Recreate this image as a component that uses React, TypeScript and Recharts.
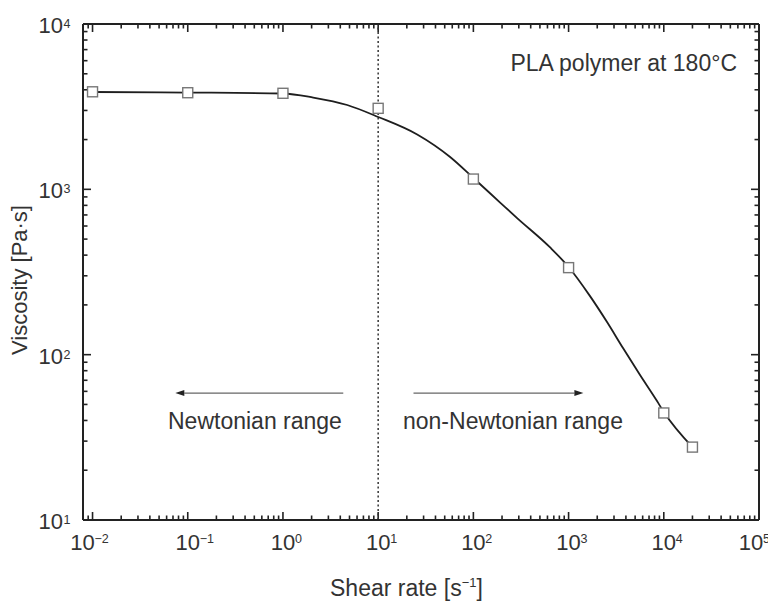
import React from 'react';
import { ComposedChart, Line, Scatter, XAxis, YAxis, ReferenceLine, Customized } from 'recharts';

// Fitted viscosity curve
const curveShearRate = [0.01, 0.1, 1, 2.08, 4.73, 10, 25.7, 57, 100, 191, 288, 640, 1000, 1680, 2535, 3730, 5630, 8490, 10000, 20000];
const curveViscosity = [3880, 3850, 3800, 3590, 3236, 2740, 2146, 1568, 1171, 832, 670, 445, 339, 226, 157.5, 109.6, 75.3, 52.4, 45, 27.6];

// Measured points (open squares)
const measuredShearRate = [0.01, 0.1, 1, 10, 100, 1000, 10000, 20000];
const measuredViscosity = [3890, 3840, 3810, 3090, 1154, 336, 44.4, 27.6];

// Axes
const xDomain = [0.00794, 100000];
const yDomain = [10, 10000];
const xMajorTicks = [0.01, 0.1, 1, 10, 100, 1000, 10000, 100000];
const xTickExponents = ['\u22122', '\u22121', '0', '1', '2', '3', '4', '5'];
const yMajorTicks = [10, 100, 1000, 10000];
const yTickExponents = ['1', '2', '3', '4'];
const minorMultipliers = [2, 3, 4, 5, 6, 7, 8, 9];

// Annotations
const boundaryShearRate = 10;
const newtonianArrow = { from: 4.3, to: 0.074, y: 58.6 };
const nonNewtonianArrow = { from: 23.5, to: 1430, y: 58.6 };
const titleText = 'PLA polymer at 180\u00b0C';
const newtonianText = 'Newtonian range';
const nonNewtonianText = 'non-Newtonian range';
const xTitle = 'Shear rate [s';
const xTitleExp = '\u22121';
const yTitle = 'Viscosity [Pa\u00b7s]';

const curveData = curveShearRate.map((x, i) => ({ x, y: curveViscosity[i] }));
const measuredData = measuredShearRate.map((x, i) => ({ x, y: measuredViscosity[i] }));

const xMinorTicks: number[] = [0.009];
xMajorTicks.slice(0, -1).forEach((m) => minorMultipliers.forEach((k) => xMinorTicks.push(m * k)));
const yMinorTicks: number[] = [];
yMajorTicks.slice(0, -1).forEach((m) => minorMultipliers.forEach((k) => yMinorTicks.push(m * k)));

const FONT = '"Liberation Sans", Arial, Helvetica, sans-serif';
const TEXT = '#333';
const AXIS = '#222';
const MAJOR = 8;
const MINOR = 4.5;

const majorIndex = (v: number, list: number[]) =>
  list.findIndex((m) => Math.abs(Math.log10(v) - Math.log10(m)) < 1e-6);

const BottomLabel = (props: any) => {
  const { x, y, payload } = props;
  const idx = majorIndex(payload.value, xMajorTicks);
  if (idx < 0) return <g />;
  let lx = x;
  if (idx === 0) lx = x - 10;
  if (idx === xMajorTicks.length - 1) lx = x - 8;
  return (
    <g fontFamily={FONT} fill={TEXT}>
      <text x={lx} y={y + 30} textAnchor="middle" fontSize={22}>10</text>
      <text x={lx + 12} y={y + 23} textAnchor="start" fontSize={12.5}>{xTickExponents[idx]}</text>
    </g>
  );
};

const LeftLabel = (props: any) => {
  const { x, y, payload } = props;
  const idx = majorIndex(payload.value, yMajorTicks);
  if (idx < 0) return <g />;
  return (
    <g fontFamily={FONT} fill={TEXT}>
      <text x={x - 20} y={y + 9} textAnchor="end" fontSize={22}>10</text>
      <text x={x - 19.5} y={y + 4} textAnchor="start" fontSize={12.5}>{yTickExponents[idx]}</text>
    </g>
  );
};

// Inward tick marks at both ends of a segment spanning the plot
const TickPair = (props: any) => {
  const { x1, y1, x2, y2, len } = props;
  const dx = x2 - x1;
  const dy = y2 - y1;
  const L = Math.sqrt(dx * dx + dy * dy) || 1;
  const ux = dx / L;
  const uy = dy / L;
  return (
    <g>
      <line x1={x1} y1={y1} x2={x1 + ux * len} y2={y1 + uy * len} stroke={AXIS} strokeWidth={1.6} />
      <line x1={x2} y1={y2} x2={x2 - ux * len} y2={y2 - uy * len} stroke={AXIS} strokeWidth={1.6} />
    </g>
  );
};

const Square = (props: any) => {
  const { cx, cy } = props;
  if (cx == null || cy == null) return null;
  return <rect x={cx - 5} y={cy - 5} width={10} height={10} fill="#fff" stroke="#777" strokeWidth={1.4} />;
};

const Arrow = (props: any) => {
  const { x1, y1, x2, y2 } = props;
  const dx = x2 - x1;
  const dy = y2 - y1;
  const L = Math.sqrt(dx * dx + dy * dy) || 1;
  const ux = dx / L;
  const uy = dy / L;
  const hl = 9;
  const hw = 3;
  const bx = x2 - ux * hl;
  const by = y2 - uy * hl;
  return (
    <g>
      <line x1={x1} y1={y1} x2={bx} y2={by} stroke="#666" strokeWidth={1.3} />
      <polygon
        points={`${x2},${y2} ${bx - uy * hw},${by + ux * hw} ${bx + uy * hw},${by - ux * hw}`}
        fill="#222"
      />
    </g>
  );
};

const Annotations = () => (
  <g fontFamily={FONT} fill={TEXT}>
    <text x={729} y={63} textAnchor="end" fontSize={23}>{titleText}</text>
    <text x={160} y={421} textAnchor="start" fontSize={23}>{newtonianText}</text>
    <text x={395} y={421} textAnchor="start" fontSize={23}>{nonNewtonianText}</text>
    <text x={322} y={588} textAnchor="start" fontSize={23}>
      {xTitle}
      <tspan fontSize={13} dy={-9}>{xTitleExp}</tspan>
      <tspan fontSize={23} dy={9}>]</tspan>
    </text>
    <text x={19} y={272} textAnchor="middle" fontSize={22} transform="rotate(-90 19 272)">{yTitle}</text>
  </g>
);

const xTickSegments = [
  ...xMajorTicks.map((v) => ({ v, len: MAJOR })),
  ...xMinorTicks.map((v) => ({ v, len: MINOR })),
];
const yTickSegments = [
  ...yMajorTicks.map((v) => ({ v, len: MAJOR })),
  ...yMinorTicks.map((v) => ({ v, len: MINOR })),
];

export default function App() {
  return (
    <ComposedChart width={768} height={593} margin={{ top: 15, right: 16, bottom: 41, left: 0 }}>
      <XAxis
        xAxisId="x"
        dataKey="x"
        type="number"
        scale="log"
        domain={xDomain}
        allowDataOverflow
        ticks={xMajorTicks}
        interval={0}
        orientation="bottom"
        height={40}
        tickSize={0}
        tickMargin={0}
        tickLine={false}
        tick={<BottomLabel />}
        axisLine={{ stroke: AXIS, strokeWidth: 2 }}
      />
      <XAxis
        xAxisId="top"
        type="number"
        scale="log"
        domain={xDomain}
        allowDataOverflow
        ticks={xMajorTicks}
        orientation="top"
        height={1}
        tickLine={false}
        tick={false}
        axisLine={{ stroke: AXIS, strokeWidth: 2 }}
      />
      <YAxis
        yAxisId="left"
        dataKey="y"
        type="number"
        scale="log"
        domain={yDomain}
        allowDataOverflow
        ticks={yMajorTicks}
        interval={0}
        orientation="left"
        width={75}
        tickSize={0}
        tickMargin={0}
        tickLine={false}
        tick={<LeftLabel />}
        axisLine={{ stroke: AXIS, strokeWidth: 2 }}
      />
      <YAxis
        yAxisId="right"
        type="number"
        scale="log"
        domain={yDomain}
        allowDataOverflow
        ticks={yMajorTicks}
        orientation="right"
        width={1}
        tickLine={false}
        tick={false}
        axisLine={{ stroke: AXIS, strokeWidth: 2 }}
      />
      {xTickSegments.map(({ v, len }) => (
        <ReferenceLine
          key={`xt${v}`}
          xAxisId="x"
          yAxisId="left"
          segment={[{ x: v, y: yDomain[0] }, { x: v, y: yDomain[1] }]}
          ifOverflow="visible"
          shape={(p: any) => <TickPair {...p} len={len} />}
        />
      ))}
      {yTickSegments.map(({ v, len }) => (
        <ReferenceLine
          key={`yt${v}`}
          xAxisId="x"
          yAxisId="left"
          segment={[{ x: xDomain[0], y: v }, { x: xDomain[1], y: v }]}
          ifOverflow="visible"
          shape={(p: any) => <TickPair {...p} len={len} />}
        />
      ))}
      <ReferenceLine
        xAxisId="x"
        yAxisId="left"
        x={boundaryShearRate}
        stroke="#333"
        strokeWidth={1.5}
        strokeDasharray="2 2.5"
      />
      <ReferenceLine
        xAxisId="x"
        yAxisId="left"
        segment={[{ x: newtonianArrow.from, y: newtonianArrow.y }, { x: newtonianArrow.to, y: newtonianArrow.y }]}
        shape={(p: any) => <Arrow {...p} />}
      />
      <ReferenceLine
        xAxisId="x"
        yAxisId="left"
        segment={[{ x: nonNewtonianArrow.from, y: nonNewtonianArrow.y }, { x: nonNewtonianArrow.to, y: nonNewtonianArrow.y }]}
        shape={(p: any) => <Arrow {...p} />}
      />
      <Line
        xAxisId="x"
        yAxisId="left"
        data={curveData}
        dataKey="y"
        type="monotone"
        stroke="#1e1e1e"
        strokeWidth={1.8}
        dot={false}
        isAnimationActive={false}
      />
      <Scatter
        xAxisId="x"
        yAxisId="left"
        data={measuredData}
        dataKey="y"
        shape={<Square />}
        isAnimationActive={false}
      />
      <Customized component={Annotations} />
    </ComposedChart>
  );
}
